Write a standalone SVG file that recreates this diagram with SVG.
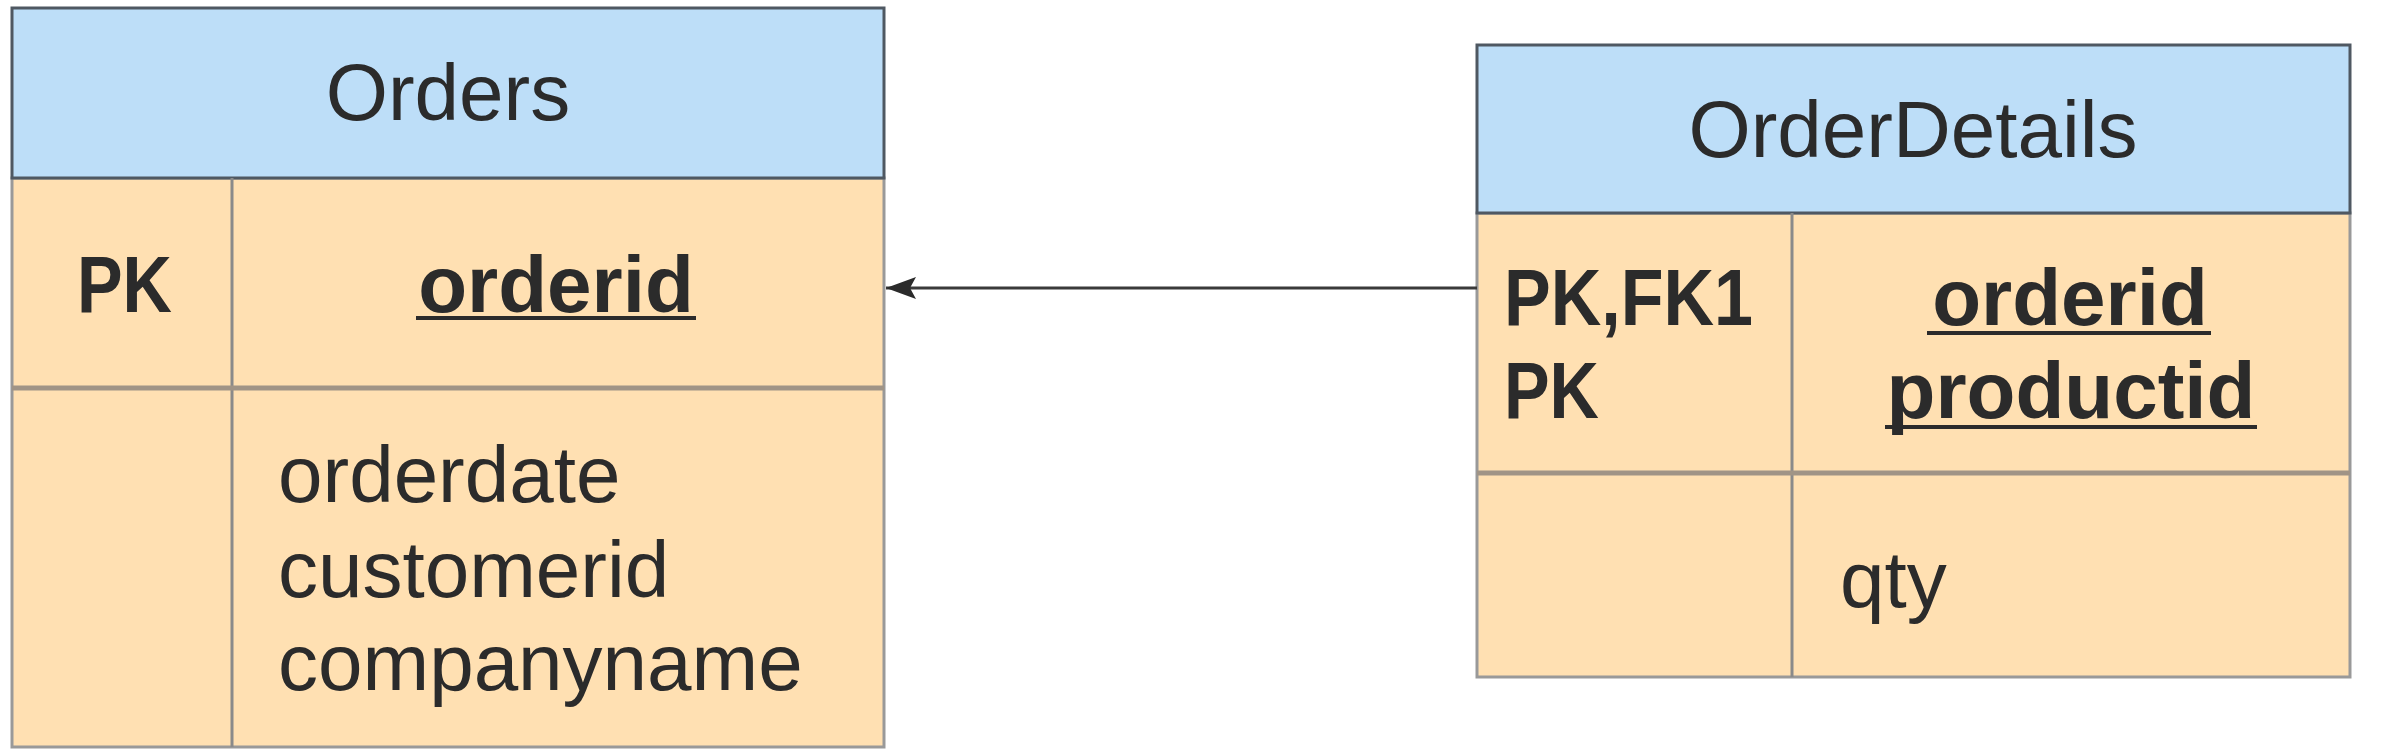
<svg xmlns="http://www.w3.org/2000/svg" width="2391" height="756" viewBox="0 0 2391 756">
<defs>
<style>
.hdr{fill:#bddef8;stroke:#4f5862;stroke-width:3}
.body{fill:#ffe0b2;stroke:#999;stroke-width:3}
.div{stroke:#8a8a8a;stroke-width:3}
.rowdiv{stroke:#a09486;stroke-width:5}
.t{font-family:"Liberation Sans",Arial,sans-serif;font-size:80px;fill:#2b2b2b}
.b{font-weight:bold}
.m{text-anchor:middle}
.ul{stroke:#2b2b2b;stroke-width:4}
.conn{stroke:#3a3a3a;stroke-width:3;fill:none}
</style>
<marker id="arr" viewBox="0 0 30 22" refX="30" refY="11" markerWidth="30" markerHeight="22" orient="auto" markerUnits="userSpaceOnUse">
<path d="M0,0 L30,11 L0,22 L6,11 Z" fill="#2b2b2b"/>
</marker>
</defs>
<rect width="2391" height="756" fill="#ffffff"/>
<g id="orders">
<rect class="body" x="12" y="178" width="872" height="569"/>
<rect class="hdr" x="12" y="8" width="872" height="170"/>
<line class="div" x1="232" y1="178" x2="232" y2="747"/>
<line class="rowdiv" x1="12" y1="388" x2="884" y2="388"/>
<text class="t m" x="448" y="120">Orders</text>
<text class="t b" x="77" y="312" textLength="95" lengthAdjust="spacingAndGlyphs">PK</text>
<text class="t b m" x="556" y="312">orderid</text>
<line class="ul" x1="416" y1="318" x2="696" y2="318"/>
<text class="t" x="278" y="502">orderdate</text>
<text class="t" x="278" y="597">customerid</text>
<text class="t" x="278" y="690">companyname</text>
</g>
<g id="orderdetails">
<rect class="body" x="1477" y="213" width="873" height="464"/>
<rect class="hdr" x="1477" y="45" width="873" height="168"/>
<line class="div" x1="1792" y1="213" x2="1792" y2="677"/>
<line class="rowdiv" x1="1477" y1="473" x2="2350" y2="473"/>
<text class="t m" x="1913" y="157">OrderDetails</text>
<text class="t b" x="1504" y="325" textLength="249" lengthAdjust="spacingAndGlyphs">PK,FK1</text>
<text class="t b" x="1504" y="418" textLength="95" lengthAdjust="spacingAndGlyphs">PK</text>
<text class="t b m" x="2070" y="325">orderid</text>
<line class="ul" x1="1927" y1="333" x2="2211" y2="333"/>
<text class="t b m" x="2071" y="418">productid</text>
<line class="ul" x1="1885" y1="427" x2="2257" y2="427"/>
<text class="t" x="1840" y="607">qty</text>
</g>
<g id="connectors">
<line class="conn" x1="1477" y1="288" x2="886" y2="288" marker-end="url(#arr)"/>
</g>
</svg>
